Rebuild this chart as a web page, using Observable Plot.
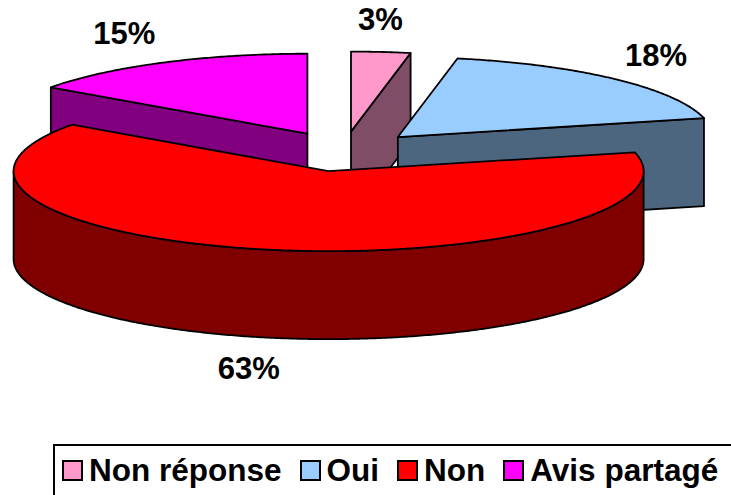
<!DOCTYPE html>
<html>
<head>
<meta charset="utf-8">
<script src="https://cdn.jsdelivr.net/npm/d3@7"></script>
<script src="https://cdn.jsdelivr.net/npm/@observablehq/plot@0.6"></script>
<style>
  body { margin: 0; background: #fff; }
  #wrap { position: relative; width: 731px; height: 495px; overflow: hidden; font-family: "Liberation Sans", Arial, sans-serif; }
  #chart svg { display: block; }
  #legend { position: absolute; left: 53px; top: 444px; width: 720px; height: 80px; border: 2px solid #000; box-sizing: border-box; padding: 7px 0 0 7px; }
  #legend .row { display: flex; align-items: center; height: 35px; }
  #legend .sw { width: 21px; height: 21px; box-sizing: border-box; border: 2px solid #000; flex: none; }
  #legend .tx { font-size: 31.5px; font-weight: bold; margin: 0 18px 0 6px; white-space: nowrap; line-height: 35px; color: #000; }
</style>
</head>
<body>
<div id="wrap">
  <div id="chart"></div>
  <div id="legend"><div class="row" id="legrow"></div></div>
</div>
<script>
// ---- data ----
const categories = ["Non réponse", "Oui", "Non", "Avis partagé"];
const values = [3, 18, 63, 15];
const labels = ["3%", "18%", "63%", "15%"];
const topColors = ["#FF99CC", "#99CCFF", "#FF0000", "#FF00FF"];
const sideColors = ["#804D66", "#4D6680", "#800000", "#800080"];

// ---- 3D pie geometry (chart units) ----
const W = 731, H = 440;
const cx = 343, cy = 151, rx = 315, ry = 80, depth = 88, explode = 0.25;
const labelCx = cx - 7, labelKx = 1.47, labelKy = 1.655;

const arcs = d3.pie().sort(null).startAngle(0).endAngle(2 * Math.PI)(values);

const slices = arcs.map((a, i) => {
  const mid = (a.startAngle + a.endAngle) / 2;
  const A = { x: cx + explode * rx * Math.sin(mid), y: cy - explode * ry * Math.cos(mid) };
  return { i, a0: a.startAngle, a1: a.endAngle, mid, A };
});

const P = (A, t, dz = 0) => ({ x: A.x + rx * Math.sin(t), y: A.y - ry * Math.cos(t) + dz });
function arcPts(A, t0, t1, dz = 0) {
  const n = Math.max(2, Math.ceil((t1 - t0) / (Math.PI / 360)));
  return d3.range(n + 1).map(k => P(A, t0 + (t1 - t0) * k / n, dz));
}
const close = pts => pts.concat([pts[0]]);

const polys = [];
slices.slice().sort((s, t) => s.A.y - t.A.y).forEach(s => {
  const { A, a0, a1, i } = s;
  const Ad = { x: A.x, y: A.y + depth };
  // radial faces
  [[a0, a0 - Math.PI / 2], [a1, a1 + Math.PI / 2]].forEach(([a, n]) => {
    if (Math.cos(n) < -1e-6) {
      const p = P(A, a), pd = P(A, a, depth);
      polys.push({ fill: sideColors[i], pts: close([A, p, pd, Ad]) });
    }
  });
  // outer wall (front half)
  const w0 = Math.max(a0, Math.PI / 2), w1 = Math.min(a1, 3 * Math.PI / 2);
  if (w1 > w0) {
    const top = arcPts(A, w0, w1), bot = arcPts(A, w0, w1, depth).reverse();
    polys.push({ fill: sideColors[i], pts: close(top.concat(bot)) });
  }
  // top face
  polys.push({ fill: topColors[i], pts: close([A].concat(arcPts(A, a0, a1))) });
});

// labels placed outside each slice along its mid angle
const labelData = slices.map(s => ({
  text: labels[s.i],
  x: labelCx + labelKx * rx * Math.sin(s.mid),
  y: cy - labelKy * ry * Math.cos(s.mid) + (Math.cos(s.mid) < 0 ? depth : 0)
}));

const chart = Plot.plot({
  width: W, height: H, margin: 0,
  x: { domain: [0, W], range: [0, W], axis: null },
  y: { domain: [0, H], range: [0, H], axis: null },
  marks: [
    ...polys.map(p => Plot.line(p.pts, {
      x: "x", y: "y", fill: p.fill, stroke: "#000", strokeWidth: 1.8,
      strokeLinejoin: "round", curve: "linear"
    })),
    Plot.text(labelData, {
      x: "x", y: "y", text: "text", fontSize: 31, fontWeight: "bold",
      fontFamily: "Liberation Sans, Arial, sans-serif", fill: "#000",
      textAnchor: "middle", lineAnchor: "middle"
    })
  ]
});
document.getElementById("chart").appendChild(chart);

// legend
const row = document.getElementById("legrow");
categories.forEach((c, i) => {
  const sw = document.createElement("div");
  sw.className = "sw"; sw.style.background = topColors[i];
  const tx = document.createElement("div");
  tx.className = "tx"; tx.textContent = c;
  row.appendChild(sw); row.appendChild(tx);
});
</script>
</body>
</html>
